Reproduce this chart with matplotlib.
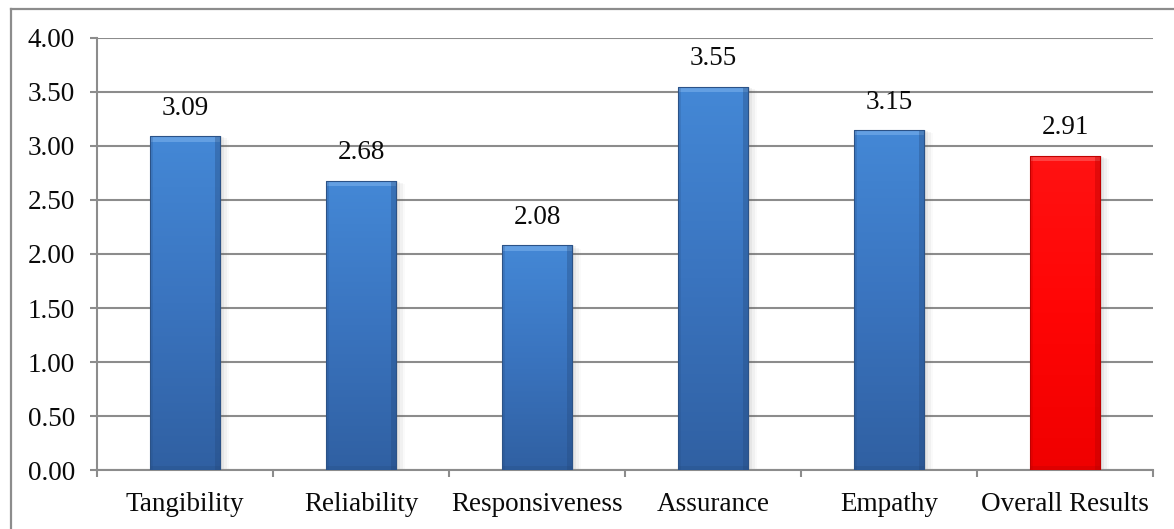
import numpy as np
import matplotlib
matplotlib.use("Agg")
import matplotlib.pyplot as plt
from matplotlib.colors import LinearSegmentedColormap
from matplotlib.patches import Rectangle
from matplotlib.lines import Line2D

categories = ["Tangibility", "Reliability", "Responsiveness", "Assurance", "Empathy", "Overall Results"]
scores = [3.09, 2.68, 2.08, 3.55, 3.15, 2.91]
labels = ["3.09", "2.68", "2.08", "3.55", "3.15", "2.91"]
highlight = [False, False, False, False, False, True]
yticks = [0.0, 0.5, 1.0, 1.5, 2.0, 2.5, 3.0, 3.5, 4.0]

plt.rcParams["font.family"] = ["Liberation Serif", "DejaVu Serif"]
FS = 19.5
TXT = "#0a0a0a"

fig = plt.figure(figsize=(11.74, 5.29), dpi=100)
ax = fig.add_axes([0.0826, 0.1115, 0.8995, 0.8167])

# outer frame of the chart area
fig.add_artist(Line2D([11 / 1174, 1.0], [1 - 9 / 529, 1 - 9 / 529], transform=fig.transFigure,
                      color="#8c8c8c", lw=1.6))
fig.add_artist(Line2D([11 / 1174, 11 / 1174], [0.0, 1 - 9 / 529], transform=fig.transFigure,
                      color="#8c8c8c", lw=1.6))

x = np.arange(len(categories))
ax.set_xlim(-0.5, len(categories) - 0.5)
ax.set_ylim(0, 4.0)

grid_c = "#8c8c8c"
for t in yticks:
    ax.axhline(t, color=grid_c, lw=1.5, zorder=1)

blue_cmap = LinearSegmentedColormap.from_list("blue", ["#3060a2", "#3a74bf", "#4488d6"])
red_cmap = LinearSegmentedColormap.from_list("red", ["#f00000", "#ff0505", "#ff1212"])

bars = ax.bar(x, scores, width=0.4, color="none", edgecolor="none", zorder=3)
for bar, hl, lab in zip(bars, highlight, labels):
    bx, bw, bh = bar.get_x(), bar.get_width(), bar.get_height()
    # soft drop shadow on the right
    for k, a in enumerate([0.10, 0.07, 0.05, 0.03]):
        off = 0.012 * (k + 1)
        ax.add_patch(Rectangle((bx + off, 0), bw, bh - 0.01 * k, facecolor="#606060",
                               alpha=a, edgecolor="none", zorder=2))
    cmap = red_cmap if hl else blue_cmap
    grad = np.linspace(0, 1, 256).reshape(-1, 1)
    im = ax.imshow(grad, cmap=cmap, aspect="auto", origin="lower",
                   extent=(bx, bx + bw, 0, bh), zorder=3)
    im.set_clip_path(bar)
    # bevel: light top, dark right/bottom edges
    light = "#7fb3ee" if not hl else "#ff6a6a"
    dark = "#24497c" if not hl else "#b00000"
    ax.add_patch(Rectangle((bx, bh - 0.05), bw, 0.05, facecolor=light, alpha=0.55,
                           edgecolor="none", zorder=4))
    ax.add_patch(Rectangle((bx + bw * 0.93, 0), bw * 0.07, bh, facecolor=dark, alpha=0.35,
                           edgecolor="none", zorder=4))
    ax.add_patch(Rectangle((bx, 0), bw * 0.05, bh, facecolor=dark, alpha=0.2,
                           edgecolor="none", zorder=4))
    ax.add_patch(Rectangle((bx, 0), bw, 0.04, facecolor=dark, alpha=0.25,
                           edgecolor="none", zorder=4))
    ax.add_patch(Rectangle((bx, 0), bw, bh, facecolor="none",
                           edgecolor=("#2b5287" if not hl else "#c00000"), lw=0.8, zorder=5))
    ax.annotate(lab, (bx + bw / 2, bh), xytext=(0, 11), textcoords="offset points",
                ha="center", va="bottom", fontsize=FS, color=TXT, zorder=6)

for s in ["top", "right"]:
    ax.spines[s].set_visible(False)
ax.spines["left"].set_color(grid_c)
ax.spines["left"].set_linewidth(1.5)
ax.spines["bottom"].set_color(grid_c)
ax.spines["bottom"].set_linewidth(1.5)

ax.set_yticks(yticks)
ax.set_yticklabels([f"{t:.2f}" for t in yticks], fontsize=FS, color=TXT)
ax.tick_params(axis="y", length=5, width=1.5, color=grid_c, pad=11)

ax.set_xticks(x)
ax.set_xticklabels(categories, fontsize=FS, color=TXT)
ax.tick_params(axis="x", which="major", length=0, pad=16)
ax.set_xticks(np.arange(len(categories) + 1) - 0.5, minor=True)
ax.tick_params(axis="x", which="minor", length=5, width=1.5, color=grid_c)

fig.savefig("out.png", dpi=100)
